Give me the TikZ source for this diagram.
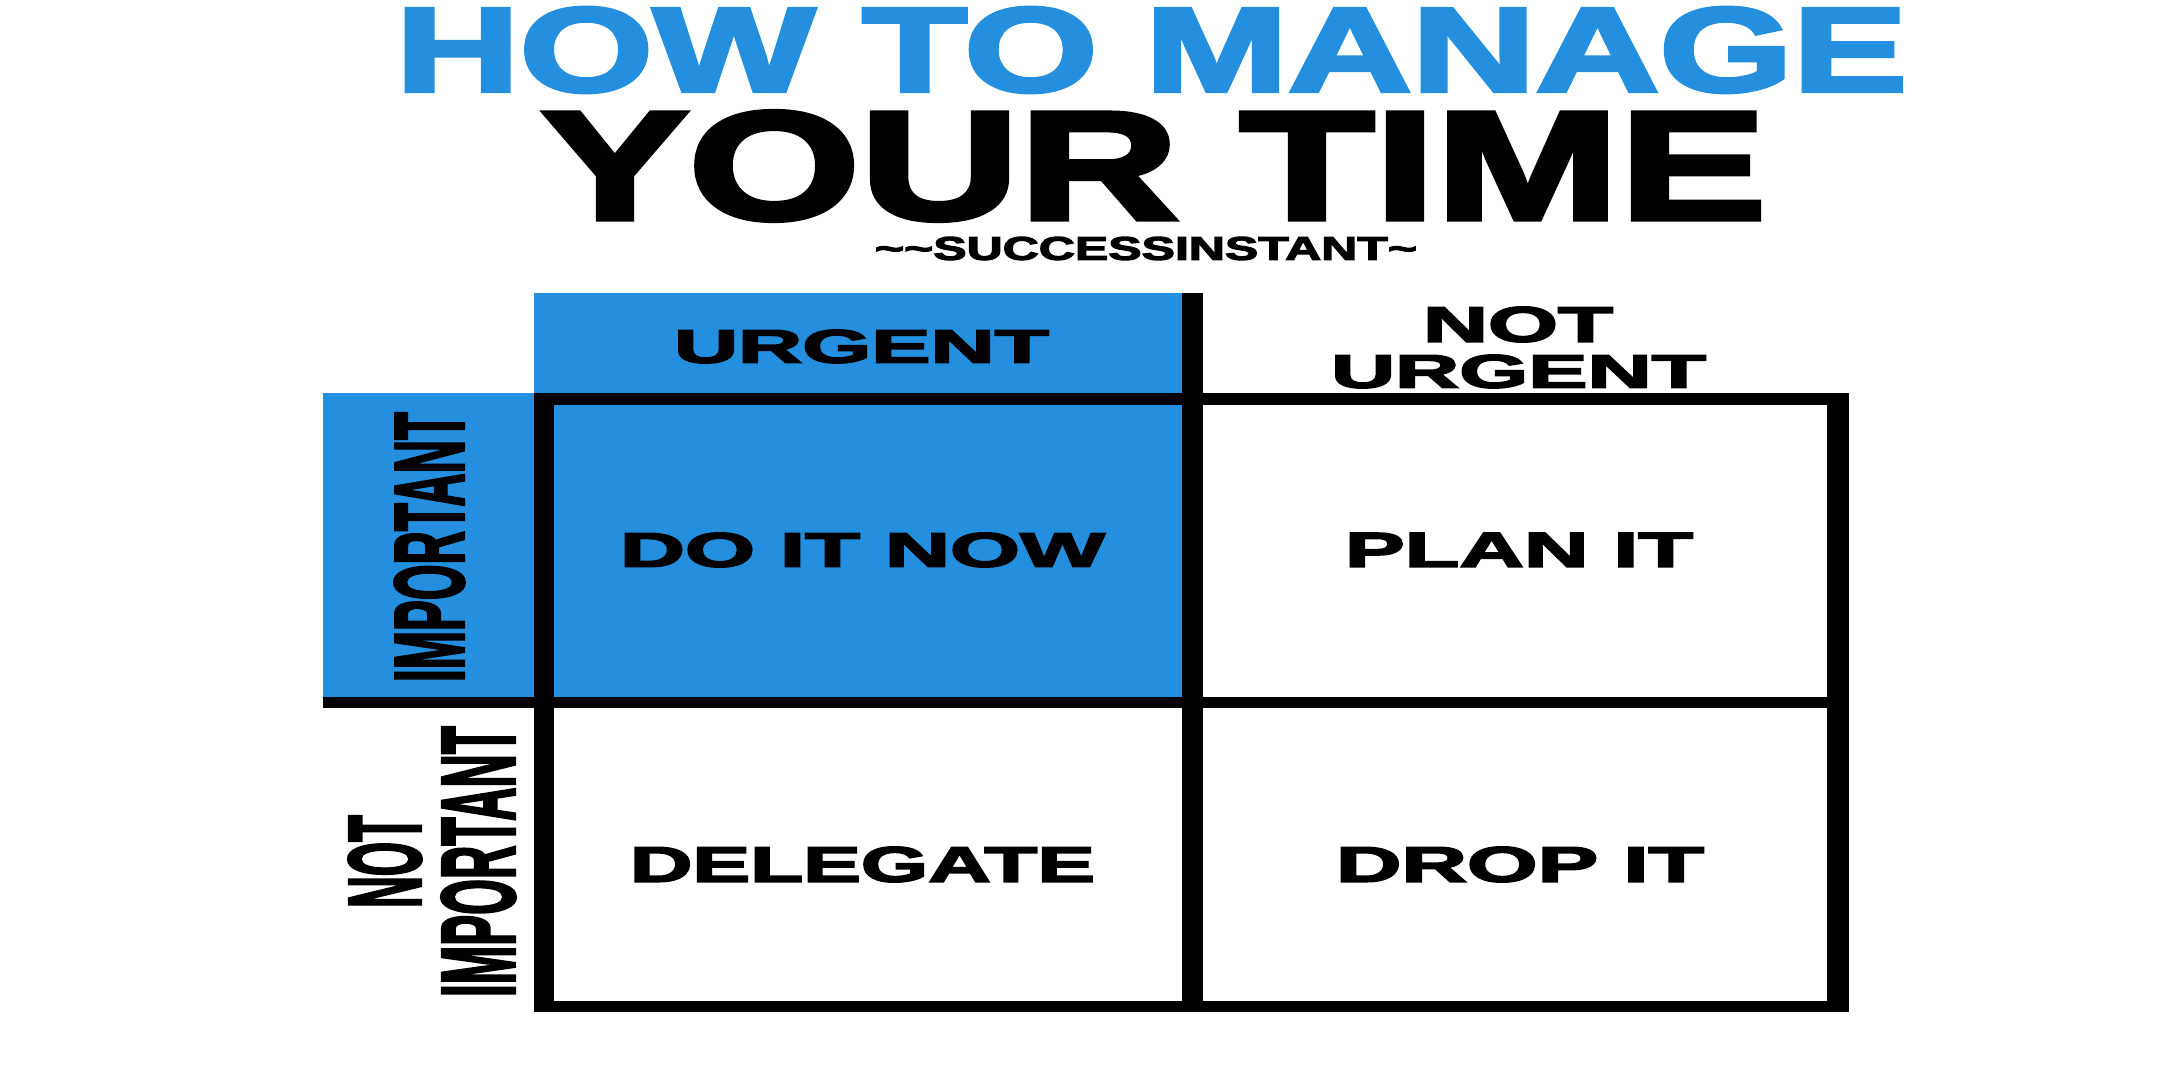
\documentclass[tikz,border=0pt]{standalone}
\usepackage{fontspec}
\setmainfont{Liberation Sans}
\newfontfamily\heavy{Liberation Sans Bold}[FakeBold=3]
\usepackage{graphicx}
\definecolor{matrixblue}{RGB}{35,143,222}
\newlength\px
\setlength\px{0.5pt}
\newcommand{\boxtext}[3]{\resizebox{#1\px}{#2\px}{\heavy #3}}
\tikzset{
  word/.style={inner sep=0pt, anchor=center},
  bluecell/.style={fill=matrixblue},
  bar/.style={fill=black}
}

\begin{document}
\begin{tikzpicture}[x=0.5pt, y=-0.5pt]
\useasboundingbox (0,0) rectangle (2160,1090);

% Title
\node [word, text=matrixblue] (title) at (1151.5,50) {\boxtext{1511}{84}{HOW TO MANAGE}};
\node [word] (title2) at (1154,166) {\boxtext{1224}{108}{YOUR TIME}};
\node [word] (sub) at (1146,248.5) {\boxtext{542}{23}{\textasciitilde\textasciitilde SUCCESSINSTANT\textasciitilde}};

% Blue areas
\fill [bluecell] (534,293) rectangle (1182,393);
\fill [bluecell] (323,393) rectangle (534,697);
\fill [bluecell] (554,405) rectangle (1182,697);

% Grid bars
\fill [bar] (534,393) rectangle (1849,405);
\fill [bar] (323,697) rectangle (1849,708);
\fill [bar] (534,1001) rectangle (1849,1012);
\fill [bar] (534,393) rectangle (554,1012);
\fill [bar] (1182,293) rectangle (1203,1012);
\fill [bar] (1827,393) rectangle (1849,1012);

% Column headers
\node [word] (urgent) at (861.5,346.5) {\boxtext{375}{33}{URGENT}};
\node [word] (not) at (1518,324.5) {\boxtext{190}{35}{NOT}};
\node [word] (noturgent) at (1518.5,371.5) {\boxtext{375}{33}{URGENT}};

% Row headers
\node [word] (important) at (429.5,547) {\rotatebox{90}{\boxtext{270}{69}{IMPORTANT}}};
\node [word] (notimp) at (385,861.5) {\rotatebox{90}{\boxtext{93}{72}{NOT}}};
\node [word] (notimportant) at (478.5,861.5) {\rotatebox{90}{\boxtext{271}{73}{IMPORTANT}}};

% Quadrants
\node [word] (doit) at (862.5,550) {\boxtext{485}{34}{DO IT NOW}};
\node [word] (planit) at (1519,550) {\boxtext{348}{34}{PLAN IT}};
\node [word] (delegate) at (862.5,864.5) {\boxtext{465}{35}{DELEGATE}};
\node [word] (dropit) at (1520,864.5) {\boxtext{368}{35}{DROP IT}};

\end{tikzpicture}
\end{document}
